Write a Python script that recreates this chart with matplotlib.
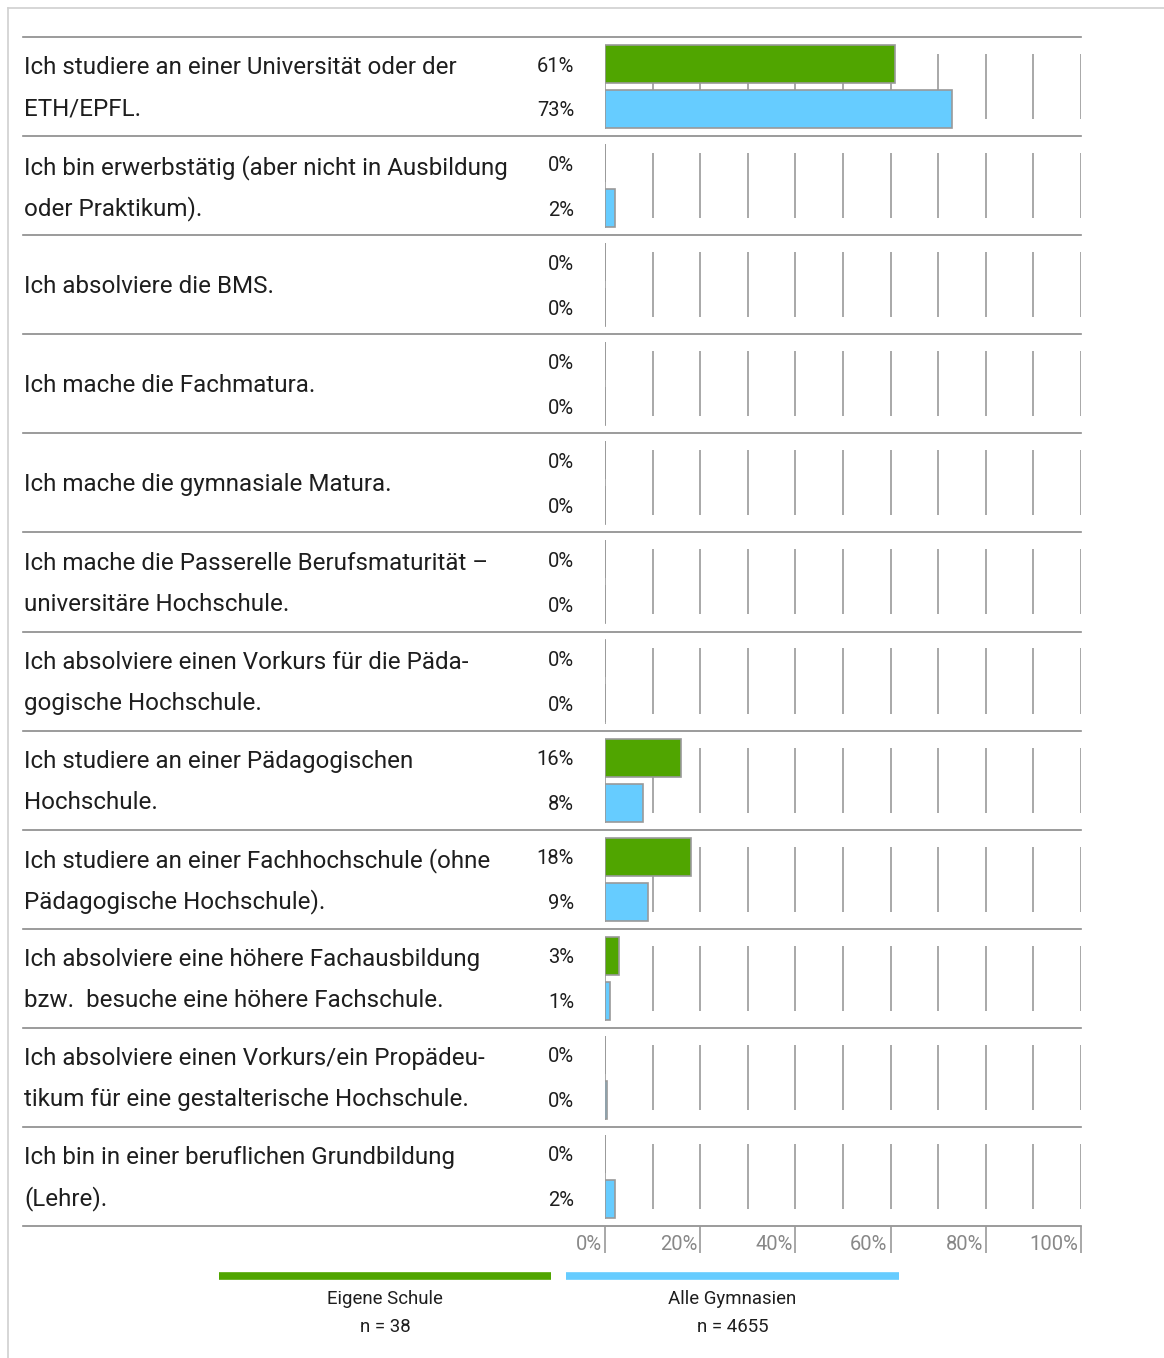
import matplotlib.pyplot as plt
from matplotlib.lines import Line2D

plt.rcParams['font.family'] = ['Roboto', 'DejaVu Sans']

categories = [
    "Ich studiere an einer Universität oder der\nETH/EPFL.",
    "Ich bin erwerbstätig (aber nicht in Ausbildung\noder Praktikum).",
    "Ich absolviere die BMS.",
    "Ich mache die Fachmatura.",
    "Ich mache die gymnasiale Matura.",
    "Ich mache die Passerelle Berufsmaturität –\nuniversitäre Hochschule.",
    "Ich absolviere einen Vorkurs für die Päda-\ngogische Hochschule.",
    "Ich studiere an einer Pädagogischen\nHochschule.",
    "Ich studiere an einer Fachhochschule (ohne\nPädagogische Hochschule).",
    "Ich absolviere eine höhere Fachausbildung\nbzw.  besuche eine höhere Fachschule.",
    "Ich absolviere einen Vorkurs/ein Propädeu-\ntikum für eine gestalterische Hochschule.",
    "Ich bin in einer beruflichen Grundbildung\n(Lehre).",
]
eigene = [61, 0, 0, 0, 0, 0, 0, 16, 18, 3, 0, 0]
alle = [73, 2, 0, 0, 0, 0, 0, 8, 9, 1, 0.4, 2]
ticks = [0, 20, 40, 60, 80, 100]
series_names = ["Eigene Schule", "Alle Gymnasien"]
series_n = ["n = 38", "n = 4655"]

green = "#50a500"
blue = "#66ccff"
grid_c = "#999999"
sep_c = "#8a8a8a"
txt_c = "#1e1e1e"

W, H = 1164, 1358
fig = plt.figure(figsize=(W / 100, H / 100), dpi=100)

# bar area: 0% at x=605, 100% at x=1081, rows from y=37 to y=1226
top_px, bot_px = 37, 1226
ax = fig.add_axes([605 / W, 1 - bot_px / H, 476 / W, (bot_px - top_px) / H])
n = len(categories)
ax.set_xlim(0, 100)
ax.set_ylim(n, 0)
ax.axis("off")

row_px = (bot_px - top_px) / n
px = lambda p: p / row_px          # pixel offset in row -> data units
dx = 100 / 476                      # one pixel in x data units

bar_h = px(38)
g_c = px(27)
b_c = px(72)

for i in range(n):
    # separators
    ax.plot([(23 - 605) * dx, 100], [i, i], color=sep_c, lw=1.2,
            clip_on=False, zorder=1)
    # row gridlines
    ax.vlines(range(10, 101, 10), i + px(17), i + px(82), color=grid_c,
              lw=1.2, zorder=1)
    ax.vlines(0, i + px(8), i + px(92), color=grid_c, lw=1.2, zorder=1)

ax.plot([(23 - 605) * dx, 100], [n, n], color=sep_c, lw=1.2,
        clip_on=False, zorder=1)

ys = list(range(n))
ax.barh([y + g_c for y in ys], eigene, height=bar_h, left=0, color=green,
        edgecolor=grid_c, lw=1.2, zorder=2)
ax.barh([y + b_c for y in ys], alle, height=bar_h, left=0, color=blue,
        edgecolor=grid_c, lw=1.2, zorder=2)

fs = 17.4
for i, (lab, e, a) in enumerate(zip(categories, eigene, alle)):
    lines = lab.split("\n")
    if len(lines) == 1:
        ax.text((24 - 605) * dx, i + 0.5 + px(2), lines[0], ha="left",
                va="center", fontsize=fs, color=txt_c, clip_on=False)
    else:
        ax.text((24 - 605) * dx, i + px(31), lines[0], ha="left",
                va="center", fontsize=fs, color=txt_c, clip_on=False)
        ax.text((24 - 605) * dx, i + px(72), lines[1], ha="left",
                va="center", fontsize=fs, color=txt_c, clip_on=False)
    ax.text((574 - 605) * dx, i + g_c + px(2), f"{round(e)}%", ha="right",
            va="center", fontsize=14.5, color=txt_c, clip_on=False)
    ax.text((574 - 605) * dx, i + b_c + px(2), f"{round(a)}%", ha="right",
            va="center", fontsize=14.5, color=txt_c, clip_on=False)

# bottom axis ticks
ax.vlines(ticks, n, n + px(27), color=grid_c, lw=1.2, clip_on=False)
for t in ticks:
    ax.text(t - 3 * dx, n + px(19), f"{t}%", ha="right", va="center",
            fontsize=14.5, color="#888888", clip_on=False)

# outer frame lines (top and left)
fig.add_artist(Line2D([8 / W, 1], [1 - 8 / H, 1 - 8 / H], color="#d0d0d0",
                      lw=1.2))
fig.add_artist(Line2D([8 / W, 8 / W], [0, 1 - 8 / H], color="#d0d0d0",
                      lw=1.2))

# legend
leg = [(219, 551, green), (566, 899, blue)]
for (x0, x1, c), name, cnt in zip(leg, series_names, series_n):
    fig.add_artist(Line2D([x0 / W, x1 / W], [1 - 1276 / H, 1 - 1276 / H],
                          color=c, lw=5.5, solid_capstyle="butt"))
    xc = (x0 + x1) / 2 / W
    fig.text(xc, 1 - 1299 / H, name, ha="center", va="center",
             fontsize=13.4, color=txt_c)
    fig.text(xc, 1 - 1327 / H, cnt, ha="center", va="center",
             fontsize=13.4, color=txt_c)

fig.savefig("out.png", dpi=100, facecolor="white")
